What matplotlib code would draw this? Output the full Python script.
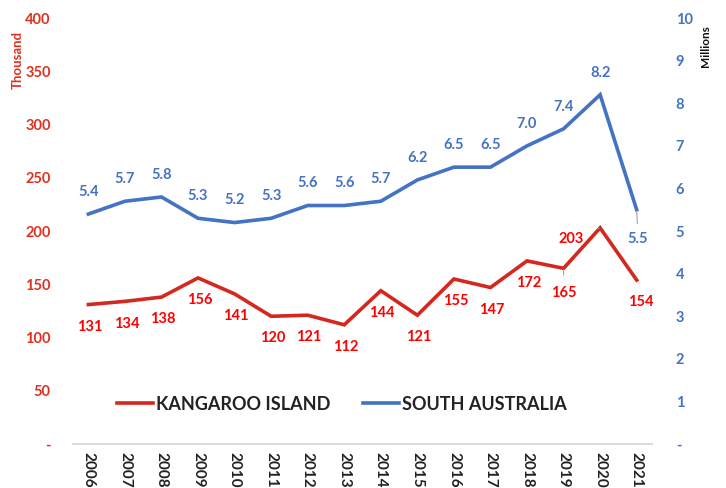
import matplotlib
matplotlib.use("Agg")
import matplotlib.pyplot as plt

years = ["2006", "2007", "2008", "2009", "2010", "2011", "2012", "2013",
         "2014", "2015", "2016", "2017", "2018", "2019", "2020", "2021"]
kangaroo = [131, 134, 138, 156, 141, 120, 121, 112, 144, 121, 155, 147, 172, 165, 203, 154]
south_aus = [5.4, 5.7, 5.8, 5.3, 5.2, 5.3, 5.6, 5.6, 5.7, 6.2, 6.5, 6.5, 7.0, 7.4, 8.2, 5.5]
left_ticks = [0, 50, 100, 150, 200, 250, 300, 350, 400]
right_ticks = list(range(0, 11))

RED_LINE = "#D4271F"
RED_TEXT = "#FF0000"
RED_TICK = "#E0301E"
BLUE = "#4472C4"
FONT = ["Lato", "DejaVu Sans"]
plt.rcParams["font.family"] = FONT

fig = plt.figure(figsize=(7.26, 4.88), dpi=100)
ax = fig.add_axes([0.1006, 0.090, 0.7975, 0.873])
ax2 = ax.twinx()

x = list(range(len(years)))
l1, = ax.plot(x, kangaroo, color=RED_LINE, lw=2.6, solid_joinstyle="miter", label="KANGAROO ISLAND")
l2, = ax2.plot(x, south_aus, color=BLUE, lw=2.6, solid_joinstyle="miter", label="SOUTH AUSTRALIA")

ax.set_xlim(-0.42, len(years) - 0.58)
ax.set_ylim(0, 400)
ax2.set_ylim(0, 10)

ax.set_xticks(x)
ax.set_xticklabels(years, rotation=-90, fontsize=11, fontweight="bold", color="#222222", va="top")
ax.tick_params(axis="x", length=0, pad=6)

ax.set_yticks(left_ticks)
ax.set_yticklabels(["-" if v == 0 else str(v) for v in left_ticks], fontsize=10.5,
                   fontweight="bold", color=RED_TICK)
ax.tick_params(axis="y", length=0, pad=16)
ax2.set_yticks(right_ticks)
ax2.set_yticklabels(["-" if v == 0 else str(v) for v in right_ticks], fontsize=10.5,
                    fontweight="bold", color=BLUE)
ax2.tick_params(axis="y", length=0, pad=17)

for a in (ax, ax2):
    for s in ("top", "left", "right"):
        a.spines[s].set_visible(False)
    a.spines["bottom"].set_color("#D9D9D9")
    a.spines["bottom"].set_linewidth(1.2)

fig.text(0.024, 0.878, "Thousand", rotation=90, color=RED_TICK, fontsize=9.5,
         fontweight="bold", ha="center", va="center")
fig.text(0.972, 0.905, "Millions", rotation=90, color="#111111", fontsize=8.5,
         fontweight="bold", ha="center", va="center")

# blue labels
for i, v in enumerate(south_aus):
    if i == len(south_aus) - 1:
        ax2.annotate(f"{v:.1f}", (i, v), xytext=(1, -21), textcoords="offset points",
                     ha="center", va="center", color=BLUE, fontsize=10.5, fontweight="bold",
                     arrowprops=dict(arrowstyle="-", color="#A6A6A6", lw=0.8, shrinkA=4, shrinkB=1))
    else:
        ax2.annotate(f"{v:.1f}", (i, v), xytext=(0, 16), textcoords="offset points",
                     ha="center", va="center", color=BLUE, fontsize=10.5, fontweight="bold")

# red labels
for i, v in enumerate(kangaroo):
    kw = dict(textcoords="offset points", ha="center", va="center", color=RED_TEXT,
              fontsize=10.5, fontweight="bold")
    if years[i] == "2020":
        ax.annotate(str(v), (i, v), xytext=(-21, -8),
                    arrowprops=dict(arrowstyle="-", color="#A6A6A6", lw=0.8, shrinkA=9, shrinkB=1), **kw)
    elif years[i] == "2019":
        ax.annotate(str(v), (i, v), xytext=(0, -18),
                    arrowprops=dict(arrowstyle="-", color="#A6A6A6", lw=0.8, shrinkA=6, shrinkB=1), **kw)
    elif years[i] == "2021":
        ax.annotate(str(v), (i, v), xytext=(3, -16), **kw)
    else:
        ax.annotate(str(v), (i, v), xytext=(1, -16), **kw)

leg = ax.legend(handles=[l1, l2], loc="center", bbox_to_anchor=(0.464, 0.094), ncol=2,
                frameon=False, prop={"family": FONT, "weight": "bold", "size": 13},
                handlelength=2.0, columnspacing=1.8, handletextpad=0.15)
for t in leg.get_texts():
    t.set_color("#222222")

fig.savefig("out.png", dpi=100)
